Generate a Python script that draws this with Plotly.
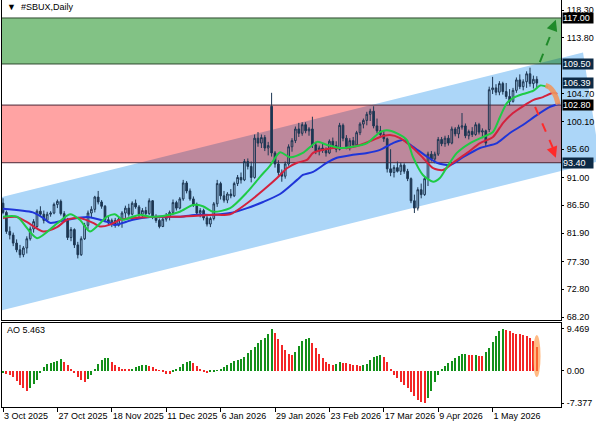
import plotly.graph_objects as go

# ---------------- data ----------------
date_ticks = [0, 16, 32, 48, 64, 80, 96, 112, 128, 144]
date_labels = ["3 Oct 2025", "27 Oct 2025", "18 Nov 2025", "11 Dec 2025", "6 Jan 2026",
               "29 Jan 2026", "23 Feb 2026", "17 Mar 2026", "9 Apr 2026", "1 May 2026"]

opens = [86.8, 85.3, 82.2, 81.6, 80.3, 79.2, 78.4, 79.5, 81.0, 82.6,
         83.0, 85.5, 85.0, 84.0, 85.0, 85.2, 86.6, 87.1, 85.1, 84.2,
         81.2, 82.5, 80.0, 78.4, 81.0, 83.2, 85.2, 85.8, 87.8, 87.0,
         86.3, 84.1, 83.6, 84.0, 83.2, 84.2, 85.2, 86.0, 85.0, 86.8,
         86.2, 85.0, 85.6, 85.1, 87.2, 84.6, 84.0, 83.0, 84.2, 84.6,
         85.3, 86.9, 86.0, 87.5, 90.1, 88.8, 87.5, 86.6, 85.2, 85.6,
         84.4, 83.4, 84.3, 86.7, 90.0, 88.0, 87.3, 88.3, 88.0, 90.0,
         91.0, 90.6, 93.6, 92.8, 91.0, 97.4, 96.6, 97.5, 95.8, 102.6,
         95.0, 93.2, 91.8, 91.2, 93.2, 96.0, 97.0, 98.9, 98.2, 99.6,
         98.6, 98.9, 96.3, 95.3, 95.8, 95.4, 95.0, 96.9, 96.2, 95.6,
         99.5, 97.4, 96.0, 97.0, 96.3, 98.3, 99.7, 100.3, 101.3, 101.8,
         99.4, 98.6, 98.0, 97.3, 92.4, 91.8, 92.6, 92.0, 93.0, 92.0,
         90.8, 87.2, 86.0, 89.0, 88.2, 90.8, 94.8, 94.0, 94.8, 97.2,
         96.5, 97.4, 96.6, 98.9, 98.1, 99.2, 99.4, 97.8, 98.5, 98.0,
         99.6, 98.4, 98.6, 98.8, 105.3, 105.6, 104.9, 106.3, 105.0, 104.2,
         103.4, 105.2, 106.9, 105.8, 106.6, 107.9, 106.3, 107.0]
highs = [87.6, 85.6, 83.0, 82.0, 80.9, 80.0, 79.8, 81.4, 83.0, 84.2,
         85.8, 86.3, 85.6, 85.4, 85.5, 86.9, 87.4, 87.4, 85.5, 84.4,
         82.9, 82.7, 80.5, 81.4, 83.6, 85.6, 86.3, 88.0, 88.8, 87.3,
         86.5, 84.8, 84.3, 84.4, 84.5, 85.5, 86.4, 86.7, 87.1, 87.4,
         86.5, 86.0, 86.2, 87.6, 87.3, 85.0, 84.3, 84.5, 85.2, 85.6,
         87.4, 87.2, 87.8, 90.6, 90.4, 89.2, 87.9, 86.9, 86.0, 85.9,
         84.8, 84.6, 87.0, 90.6, 90.3, 88.8, 88.6, 89.1, 90.3, 91.4,
         91.8, 94.0, 94.1, 93.6, 98.0, 98.4, 98.0, 97.9, 96.8, 104.8,
         95.3, 93.8, 92.3, 93.6, 96.4, 97.4, 99.3, 99.9, 100.0, 100.0,
         99.2, 100.9, 96.8, 96.2, 96.6, 95.9, 97.2, 97.5, 96.9, 99.9,
         99.8, 97.9, 97.4, 97.6, 98.6, 100.0, 100.6, 101.7, 102.2, 102.6,
         100.6, 99.4, 98.6, 97.5, 95.6, 93.0, 93.6, 93.4, 93.3, 92.4,
         91.0, 88.2, 89.4, 90.0, 91.1, 95.2, 95.3, 95.2, 97.6, 97.6,
         97.8, 97.9, 99.3, 99.2, 99.6, 101.5, 99.8, 98.8, 99.2, 100.0,
         99.9, 99.0, 98.8, 105.8, 107.4, 106.2, 106.7, 106.6, 106.4, 105.4,
         105.6, 107.3, 107.8, 107.0, 108.3, 108.9, 107.6, 107.5]
lows = [85.0, 81.8, 80.9, 79.8, 78.8, 77.9, 78.0, 78.6, 80.7, 82.0,
        82.8, 84.6, 83.5, 83.8, 84.6, 85.0, 86.0, 84.8, 83.8, 80.8,
        80.6, 79.5, 77.8, 78.2, 80.8, 82.6, 84.5, 85.3, 86.6, 85.9,
        83.7, 83.2, 82.9, 82.8, 83.0, 82.8, 84.4, 84.6, 84.8, 85.9,
        84.5, 84.4, 84.7, 84.9, 84.2, 83.6, 82.7, 82.9, 83.8, 84.0,
        85.0, 85.6, 85.8, 87.2, 88.4, 87.2, 86.2, 84.8, 84.5, 84.0,
        83.0, 82.9, 84.0, 86.2, 87.4, 86.9, 86.8, 87.6, 87.8, 89.6,
        90.0, 90.4, 92.3, 90.2, 90.8, 96.0, 95.8, 95.3, 94.6, 94.4,
        92.6, 91.3, 90.3, 90.8, 92.9, 95.2, 96.6, 97.6, 97.8, 98.2,
        97.8, 95.8, 94.8, 94.6, 95.0, 94.4, 94.8, 95.8, 95.1, 95.4,
        96.9, 95.6, 95.4, 95.8, 96.0, 97.9, 99.0, 99.5, 100.2, 99.0,
        98.2, 97.6, 96.8, 91.8, 91.2, 91.0, 91.8, 91.4, 91.6, 90.4,
        86.8, 85.2, 85.6, 87.6, 88.0, 89.6, 93.6, 93.3, 94.5, 96.1,
        96.0, 96.2, 96.4, 97.7, 97.4, 98.8, 97.4, 97.2, 97.6, 97.8,
        98.0, 97.4, 96.0, 98.4, 104.6, 104.4, 104.4, 104.5, 103.8, 102.8,
        103.2, 104.8, 105.4, 105.2, 105.6, 105.8, 105.5, 105.6]
closes = [85.3, 82.2, 81.6, 80.3, 79.2, 78.4, 79.5, 81.0, 82.6, 83.8,
          85.5, 85.0, 84.0, 85.0, 85.2, 86.6, 87.1, 85.1, 84.2, 81.2,
          82.5, 80.0, 78.4, 81.0, 83.2, 85.2, 85.8, 87.8, 87.0, 86.3,
          84.1, 83.6, 84.0, 83.2, 84.2, 85.2, 86.0, 85.0, 86.8, 86.2,
          85.0, 85.6, 85.1, 87.2, 84.6, 84.0, 83.0, 84.2, 84.6, 85.3,
          86.9, 86.0, 87.5, 90.1, 88.8, 87.5, 86.6, 85.2, 85.6, 84.4,
          83.4, 84.3, 86.7, 90.0, 88.0, 87.3, 88.3, 88.0, 90.0, 91.0,
          90.6, 93.6, 92.8, 91.0, 97.4, 96.6, 97.5, 95.8, 96.2, 95.0,
          93.2, 91.8, 91.2, 93.2, 96.0, 97.0, 98.9, 98.2, 99.6, 98.6,
          98.9, 96.3, 95.3, 95.8, 95.4, 95.0, 96.9, 96.2, 95.6, 99.5,
          97.4, 96.0, 97.0, 96.3, 98.3, 99.7, 100.3, 101.3, 101.8, 99.4,
          98.6, 98.0, 97.3, 92.4, 91.8, 92.6, 92.0, 93.0, 92.0, 90.8,
          87.2, 86.0, 89.0, 88.2, 90.8, 94.8, 94.0, 94.8, 97.2, 96.5,
          97.4, 96.6, 98.9, 98.1, 99.2, 99.4, 97.8, 98.5, 98.0, 99.6,
          98.4, 98.6, 96.6, 105.3, 105.6, 104.9, 106.3, 105.0, 104.2, 103.4,
          105.2, 106.9, 105.8, 106.6, 107.9, 106.3, 107.0, 106.39]

ao_values = [-0.6, -0.7, -1.0, -1.5, -2.3, -3.2, -4.0, -4.6, -4.0, -3.0,
             -2.0, -0.6, 0.9, 1.5, 1.8, 2.0, 2.3, 2.6, 1.9, 1.2,
             0.5, -0.6, -1.4, -2.0, -2.5, -1.9, -1.0, 0.4, 1.5, 2.4,
             2.8, 2.95, 2.0, 1.2, 0.8, 0.5, 0.3, 0.2, 0.5, 0.9,
             1.1, 1.2, 1.3, 1.1, 0.8, 0.4, 0.1, -0.4, -0.7, -0.8,
             -0.3, 0.3, 0.8, 1.5, 2.0, 2.2, 1.7, 1.0, 0.3, -0.3,
             -0.5, -0.4, -0.2, 0.1, 0.4, 0.8, 1.2, 1.7, 2.1, 2.4,
             2.6, 3.2, 4.0, 4.7, 5.4, 6.2, 6.9, 7.5, 8.3, 9.35,
             8.5, 7.3, 5.8, 4.8, 3.8, 3.6, 4.2, 5.6, 6.8, 7.3,
             7.35, 6.3, 5.1, 3.9, 2.9, 2.0, 1.6, 1.4, 1.6, 2.0,
             1.85, 1.8, 1.6, 1.4, 1.2, 1.0, 1.2, 1.6, 2.4, 3.0,
             3.4, 3.5, 3.0, 2.0, 0.2, -1.0, -1.7, -2.5, -3.2, -4.0,
             -4.9, -5.8, -6.6, -7.0, -7.377, -6.3, -4.5, -2.6, -1.0, 0.4,
             1.0, 1.7, 2.2, 2.8, 3.4, 3.7, 3.75, 3.6, 3.5, 3.55,
             3.45, 3.4, 4.3, 5.2, 6.4, 7.8, 9.1, 9.469, 9.3, 8.9,
             8.6, 8.4, 8.3, 8.2, 7.9, 7.4, 6.8, 5.463]

# Alligator lines (bar index, price)
lips_x = [0, 4.1, 10, 15.9, 19.7, 22.6, 25.6, 30.6, 32.9, 35.3, 38.2, 40.3, 43.2, 47.1, 52,
          55.9, 58.8, 61.8, 66.8, 71.8, 75.6, 78.5, 81.5, 84.4, 88.2, 92.4, 95.3, 99.1, 102.9,
          107.1, 110.9, 112.9, 115.9, 118.8, 120.6, 123.5, 126.5, 128.5, 130.6, 133.5, 137.4,
          141.2, 144.1, 146.2, 148.2, 150, 152.9, 155.9, 158, 160.3]
lips_y = [84.6, 84.6, 81.1, 83.5, 85.0, 84.1, 82.2, 84.6, 85.0, 84.1, 84.6, 84.9, 84.6, 84.7, 85.4,
          86.5, 86.3, 85.4, 86.0, 88.6, 91.1, 92.9, 95.1, 94.3, 95.0, 96.8, 96.3, 95.8, 96.0,
          96.6, 98.4, 98.7, 98.2, 97.1, 94.3, 91.4, 90.3, 90.9, 92.7, 95.0, 96.6,
          97.6, 98.4, 100.9, 103.1, 103.95, 104.6, 105.1, 106.0, 105.75]
teeth_x = [0, 4.1, 7.1, 11.8, 15.9, 18.8, 22.6, 26.5, 28.5, 31.5, 34.4, 38.2, 43.2, 52.1, 61.8,
           66.8, 71.8, 76.5, 80.6, 83.5, 86.5, 89.4, 91.2, 94.1, 97.1, 101.2, 105, 108.8, 110.9,
           113.8, 116.8, 120.6, 123.5, 126.5, 129.4, 132.4, 136.5, 140.3, 144.1, 147.1, 150,
           152.9, 155.9, 158.8, 161.8, 163]
teeth_y = [84.4, 84.55, 83.7, 82.2, 82.9, 84.1, 84.4, 83.6, 83.0, 83.3, 84.1, 84.4, 84.55, 84.6, 84.9,
           85.0, 86.8, 88.9, 90.9, 92.5, 93.4, 93.85, 95.0, 95.5, 95.8, 95.8, 96.3, 97.1, 97.6,
           97.9, 97.4, 95.8, 94.2, 92.5, 92.2, 93.4, 95.0, 96.6, 97.6, 99.9, 101.5,
           102.6, 103.6, 104.1, 104.8, 104.6]
jaw_x = [0, 8.8, 11.8, 13.8, 18.8, 24.7, 26.5, 31.5, 32.9, 38.2, 43.2, 52.1, 57.1, 61.8, 66.8,
         71.8, 76.5, 81.5, 86.5, 88.2, 91.2, 95.3, 98.2, 102.9, 107.1, 110.9, 114.7, 117.6,
         120.6, 124.7, 127.6, 131.5, 135.3, 140.3, 145.3, 149.1, 152.9, 157.1, 160.9, 163.8]
jaw_y = [85.9, 85.3, 84.4, 83.6, 84.1, 84.55, 84.4, 83.6, 83.25, 84.1, 84.55, 84.6, 84.9, 84.9, 85.2,
         86.0, 87.0, 88.3, 90.6, 91.4, 91.9, 93.4, 94.2, 94.7, 95.0, 95.5, 96.6, 97.1,
         96.0, 94.4, 93.4, 93.0, 94.3, 95.8, 96.6, 98.25, 99.55, 101.2, 102.5, 103.1]

price_ticks = [118.30, 113.80, 104.70, 100.10, 95.60, 91.00, 86.50, 81.90, 77.30, 72.80, 68.20]
level_labels = [117.00, 109.50, 106.39, 102.80, 93.40]
ao_ticks = [9.469, 0.0, -7.377]
ao_tick_text = ["9.469", "0.00", "-7.377"]

# ---------------- styling / geometry ----------------
FONT = "Liberation Sans"
FS = 9
CANDLE = "#1d3753"
X0, X1 = -0.294, 164.118
Y0, Y1 = 67.76, 119.93
AO0, AO1 = -8.23, 10.82
ch_top0, ch_bot0, ch_slope = 87.86, 69.39, 0.138   # channel edges at bar 0, slope per bar

idx = list(range(len(closes)))

fig = go.Figure()

fig.add_trace(go.Candlestick(
    x=idx, open=opens, high=highs, low=lows, close=closes,
    increasing=dict(line=dict(color=CANDLE, width=1), fillcolor="rgba(0,0,0,0)"),
    decreasing=dict(line=dict(color=CANDLE, width=1), fillcolor=CANDLE),
    whiskerwidth=0, showlegend=False, hoverinfo="skip", xaxis="x", yaxis="y"))

for xs, ys, col in [(jaw_x, jaw_y, "#1f35d8"), (teeth_x, teeth_y, "#d3223e"), (lips_x, lips_y, "#1ecb45")]:
    fig.add_trace(go.Scatter(x=xs, y=ys, mode="lines", showlegend=False, hoverinfo="skip",
                             line=dict(color=col, width=2, shape="spline", smoothing=0.7),
                             xaxis="x", yaxis="y"))

ao_colors = []
for k, v in enumerate(ao_values):
    if k == 0 or v >= ao_values[k - 1]:
        ao_colors.append("#12901a")
    else:
        ao_colors.append("#f32626")
fig.add_trace(go.Bar(x=idx, y=ao_values, marker=dict(color=ao_colors, line=dict(width=0)),
                     width=0.62, showlegend=False, hoverinfo="skip", xaxis="x2", yaxis="y2"))

shapes = []
def top(i):
    return ch_top0 + ch_slope * i
def bot(i):
    return ch_bot0 + ch_slope * i
shapes.append(dict(type="path", xref="x", yref="y", layer="below", line=dict(width=0),
                   fillcolor="#acd6f8",
                   path=f"M {X0},{bot(X0)} L {X0},{top(X0)} L {X1},{top(X1)} L {X1},{bot(X1)} Z"))
shapes.append(dict(type="path", xref="paper", yref="paper", layer="below", line=dict(width=0),
                   fillcolor="#acd6f8",
                   path="M 1.0,0.8575 L 1.0394,0.871 L 1.0626,0.6683 L 1.0626,0.602 L 1.0,0.5799 Z"))
shapes.append(dict(type="rect", xref="x", yref="y", layer="below", x0=X0, x1=X1, y0=93.4, y1=102.8,
                   fillcolor="#ffa3a3", line=dict(width=0)))
ia = (93.4 - ch_top0) / ch_slope
ib = (102.8 - ch_top0) / ch_slope
shapes.append(dict(type="path", xref="x", yref="y", layer="below", line=dict(width=0),
                   fillcolor="#bd889c",
                   path=f"M {ia},93.4 L {ib},102.8 L {X1},102.8 L {X1},93.4 Z"))
shapes.append(dict(type="rect", xref="x", yref="y", layer="below", x0=X0, x1=X1, y0=109.5, y1=117.0,
                   fillcolor="#82c285", line=dict(width=0)))
ig = (109.5 - ch_top0) / ch_slope
shapes.append(dict(type="path", xref="x", yref="y", layer="below", line=dict(width=0),
                   fillcolor="#5aa585",
                   path=f"M {ig},109.5 L {X1},{top(X1)} L {X1},109.5 Z"))
for lvl, col in [(117.0, "#2f4a30"), (109.5, "#2f4a30"), (102.8, "#4a2838"), (93.4, "#4a2838")]:
    shapes.append(dict(type="line", xref="x", yref="y", layer="below", x0=X0, x1=X1, y0=lvl, y1=lvl,
                       line=dict(color=col, width=1)))
shapes.append(dict(type="line", xref="x", yref="y", x0=157.9, y0=109.8, x1=162.3, y1=116.0,
                   line=dict(color="#1f8a2a", width=2, dash="dash")))
shapes.append(dict(type="line", xref="x", yref="y", x0=156.5, y0=102.5, x1=162.2, y1=95.2,
                   line=dict(color="#ff2a2a", width=2, dash="dash")))
shapes.append(dict(type="path", xref="x", yref="y",
                   path="M 159.6,106.0 Q 162.2,105.6 163.3,102.9",
                   line=dict(color="rgba(238,150,95,0.9)", width=5)))
shapes.append(dict(type="circle", xref="x2", yref="y2", x0=155.9, x1=158.1, y0=-1.45, y1=8.1,
                   fillcolor="rgba(255,140,50,0.6)", line=dict(width=0)))

annotations = []
annotations.append(dict(x=162.6, y=116.7, xref="x", yref="y", ax=-3, ay=8, text="", showarrow=True,
                        arrowhead=2, arrowsize=1.1, arrowwidth=2, arrowcolor="#1f8a2a", standoff=0))
annotations.append(dict(x=162.6, y=94.2, xref="x", yref="y", ax=-3, ay=-8, text="", showarrow=True,
                        arrowhead=2, arrowsize=1.1, arrowwidth=2, arrowcolor="#ff2a2a", standoff=0))
for lvl in level_labels:
    bg = "#000000" if lvl in (117.0, 102.8) else "#0d2a45"
    annotations.append(dict(x=1, xref="paper", y=lvl, yref="y", xanchor="left", yanchor="middle",
                            xshift=1, text=f"{lvl:.2f}", showarrow=False, bgcolor=bg,
                            font=dict(family=FONT, size=FS, color="white"),
                            width=30, align="left", borderpad=0))
annotations.append(dict(x=0.006, y=0.999, xref="paper", yref="paper", xanchor="left", yanchor="top",
                        text="▼  #SBUX,Daily", showarrow=False,
                        font=dict(family=FONT, size=FS, color="black")))
annotations.append(dict(x=0.006, y=0.19, xref="paper", yref="paper", xanchor="left", yanchor="middle",
                        text="AO 5.463", showarrow=False,
                        font=dict(family=FONT, size=FS, color="black")))

axis_font = dict(family=FONT, size=FS, color="black")
fig.update_layout(
    template="none",
    width=596, height=425,
    margin=dict(l=2, r=35, t=0, b=18, autoexpand=False),
    paper_bgcolor="white", plot_bgcolor="white",
    showlegend=False, bargap=0,
    shapes=shapes, annotations=annotations,
    xaxis=dict(domain=[0, 1], range=[X0, X1], anchor="y", showticklabels=False, ticks="",
               showgrid=False, zeroline=False, showline=True, linecolor="black", linewidth=1,
               automargin=False, rangeslider=dict(visible=False)),
    yaxis=dict(domain=[0.2138, 1], range=[Y0, Y1], side="right", anchor="x",
               tickvals=price_ticks, ticktext=[f"{v:.2f}" for v in price_ticks],
               ticks="outside", ticklen=2, tickcolor="black", tickfont=axis_font,
               ticklabelstandoff=1, automargin=False,
               showgrid=False, zeroline=False, showline=True, mirror=True,
               linecolor="black", linewidth=1),
    xaxis2=dict(domain=[0, 1], range=[X0, X1], anchor="y2",
                tickvals=date_ticks, ticktext=date_labels, ticks="outside", ticklen=4,
                tickcolor="black", tickfont=axis_font, ticklabelposition="outside right",
                tickangle=0, automargin=False,
                showgrid=False, zeroline=False, showline=True, mirror=True,
                linecolor="black", linewidth=1),
    yaxis2=dict(domain=[0, 0.2064], range=[AO0, AO1], side="right", anchor="x2",
                tickvals=ao_ticks, ticktext=ao_tick_text, ticks="outside", ticklen=2,
                tickcolor="black", tickfont=axis_font, ticklabelstandoff=1, automargin=False,
                showgrid=False, zeroline=False, showline=True, mirror=True,
                linecolor="black", linewidth=1),
)

fig.write_html("out.html", config={"displayModeBar": False},
               post_script="document.body.style.margin='0';document.body.style.padding='0';")
